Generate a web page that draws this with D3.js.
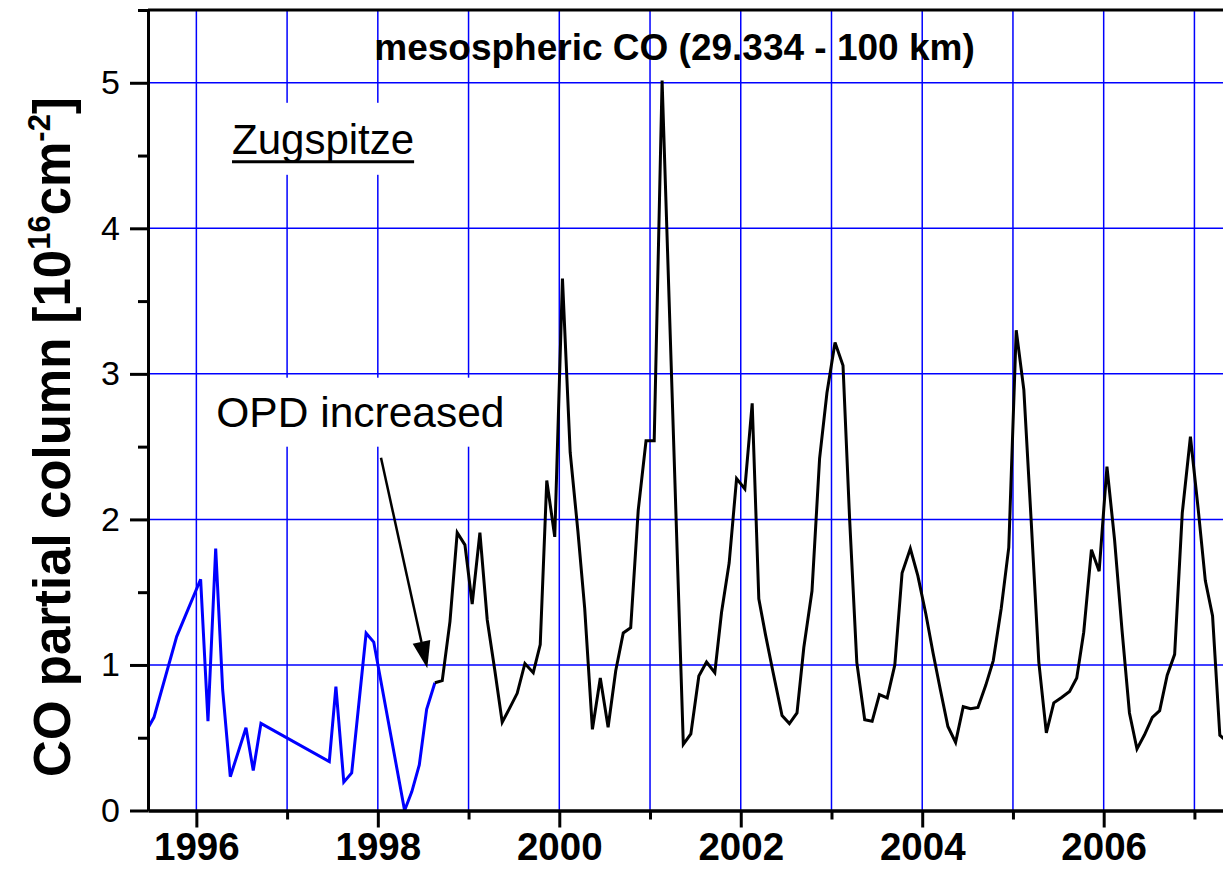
<!DOCTYPE html>
<html><head><meta charset="utf-8">
<script src="https://cdn.jsdelivr.net/npm/d3@7"></script>
<style>
body{margin:0;background:#fff}
svg{display:block}
text{font-family:"Liberation Sans",Arial,Helvetica,sans-serif}
</style>
</head><body>
<svg id="chart" width="1223" height="869"></svg>
<script>
// ---- data (decimal year, CO partial column in 1e16 cm^-2) ----
const blueYears = [1995.459,1995.533,1995.783,1996.047,1996.128,1996.213,1996.29,1996.374,1996.547,1996.627,1996.712,
  1997.465,1997.538,1997.625,1997.712,1997.871,1997.955,1998.295,1998.375,1998.457,1998.538,1998.629];
const blueValues = [0.558,0.64,1.195,1.589,0.613,1.80,0.828,0.232,0.569,0.274,0.599,
  0.336,0.851,0.195,0.258,1.218,1.157,0.0,0.13,0.313,0.695,0.878];

const blackYears = [1998.629,1998.71,1998.795,1998.875,1998.96,1999.04,1999.125,1999.206,1999.29,1999.371,1999.45,1999.536,
  1999.621,1999.713,1999.79,1999.862,1999.95,2000.035,2000.12,2000.205,2000.28,2000.365,2000.452,2000.538,2000.622,
  2000.705,2000.787,2000.87,2000.956,2001.046,2001.133,2001.367,2001.45,2001.538,2001.623,2001.714,2001.788,2001.872,
  2001.954,2002.045,2002.126,2002.199,2002.272,2002.356,2002.455,2002.536,2002.62,2002.695,2002.785,2002.869,2002.95,
  2003.039,2003.127,2003.20,2003.279,2003.366,2003.448,2003.528,2003.614,2003.698,2003.778,2003.869,2003.952,2004.04,
  2004.12,2004.20,2004.283,2004.368,2004.452,2004.533,2004.614,2004.70,2004.783,2004.871,2004.954,2005.036,2005.12,
  2005.20,2005.285,2005.368,2005.45,2005.536,2005.624,2005.703,2005.78,2005.865,2005.95,2006.036,2006.12,2006.202,
  2006.284,2006.367,2006.45,2006.536,2006.617,2006.70,2006.782,2006.866,2006.956,2007.04,2007.12,2007.20,2007.28,2007.33];
const blackValues = [0.878,0.892,1.298,1.909,1.825,1.419,1.909,1.309,0.96,0.606,0.70,0.805,
  1.01,0.947,1.14,2.267,1.88,3.655,2.46,1.92,1.389,0.558,0.911,0.572,0.96,
  1.22,1.256,2.063,2.54,2.54,5.015,0.455,0.526,0.924,1.02,0.947,1.36,1.70,
  2.28,2.21,2.797,1.455,1.21,0.95,0.652,0.597,0.67,1.12,1.508,2.42,2.87,
  3.216,3.057,2.0,1.018,0.624,0.613,0.796,0.774,1.0,1.632,1.80,1.612,1.35,
  1.08,0.83,0.577,0.468,0.713,0.699,0.708,0.86,1.03,1.39,1.808,3.30,2.89,
  2.0,1.02,0.533,0.74,0.777,0.818,0.91,1.225,1.792,1.644,2.362,1.86,1.24,
  0.67,0.423,0.52,0.64,0.686,0.93,1.073,2.043,2.568,2.08,1.58,1.336,0.517,0.49];

const yearTicks = [1996,1997,1998,1999,2000,2001,2002,2003,2004,2005,2006,2007];
const yearLabelTicks = [1996,1998,2000,2002,2004,2006];
const yearMinorTicks = [1997,1999,2001,2003,2005,2007];
const valueTicks = [0,1,2,3,4,5];
const valueMinorTicks = [0.5,1.5,2.5,3.5,4.5,5.5];
const gridValues = [1,2,3,4,5];

const titleText = "mesospheric CO (29.334 - 100 km)";
const siteText = "Zugspitze";
const noteText = "OPD increased";

// ---- layout ----
const W = 1223, H = 869;
const L = 148, T = 10, B = 810.5, R = 1223;
const svg = d3.select("#chart");

const x = d3.scaleLinear().domain([1995.467, 2007.315]).range([L, R]);
const y = d3.scaleLinear().domain([0, 5.5]).range([B, T]);

svg.append("defs").append("clipPath").attr("id","plot")
  .append("rect").attr("x",L).attr("y",T).attr("width",R-L).attr("height",B-T);

// grid
const grid = svg.append("g");
grid.selectAll("line.v").data(yearTicks).join("line").attr("class","v")
  .attr("x1",d=>x(d)).attr("x2",d=>x(d)).attr("y1",T).attr("y2",B)
  .attr("stroke","#0000ff").attr("stroke-width",1.5);
grid.selectAll("line.h").data(gridValues).join("line").attr("class","h")
  .attr("x1",L).attr("x2",R).attr("y1",d=>y(d)).attr("y2",d=>y(d))
  .attr("stroke","#0000ff").attr("stroke-width",1.5);

// annotation boxes (white, hide grid)
const ann = svg.append("g");
function boxedText(str, xv, yv, fs, pad){
  const g = ann.append("g");
  const r = g.append("rect").attr("fill","#fff");
  const t = g.append("text").attr("x",x(xv)).attr("y",y(yv))
    .attr("font-size",fs).attr("fill","#000").text(str);
  const bb = t.node().getBBox();
  r.attr("x",bb.x-pad[3]).attr("y",bb.y-pad[0])
   .attr("width",bb.width+pad[1]+pad[3]).attr("height",bb.height+pad[0]+pad[2]);
  return t;
}
const zt = boxedText(siteText, 1996.393, 4.512, 42, [13,12,12,26]);
const zbb = zt.node().getBBox();
ann.append("line").attr("x1",zbb.x).attr("x2",zbb.x+zbb.width)
  .attr("y1",y(4.512)+8).attr("y2",y(4.512)+8).attr("stroke","#000").attr("stroke-width",3);
boxedText(noteText, 1996.22, 2.637, 42.5, [11,10,11,10]);

// data lines
const line = d3.line().x(d=>x(d[0])).y(d=>y(d[1]));
const plot = svg.append("g").attr("clip-path","url(#plot)");
plot.append("path").datum(blueYears.map((d,i)=>[d,blueValues[i]]))
  .attr("d",line).attr("fill","none").attr("stroke","#0000ff").attr("stroke-width",3)
  .attr("stroke-linejoin","miter");
plot.append("path").datum(blackYears.map((d,i)=>[d,blackValues[i]]))
  .attr("d",line).attr("fill","none").attr("stroke","#000").attr("stroke-width",3)
  .attr("stroke-linejoin","miter");

// arrow
const a0 = [x(1998.035), y(2.423)], a1 = [x(1998.545), y(0.977)];
const dx = a1[0]-a0[0], dy = a1[1]-a0[1], len = Math.hypot(dx,dy);
const ux = dx/len, uy = dy/len, hl = 27, hw = 9;
const bx = a1[0]-ux*hl, by = a1[1]-uy*hl;
svg.append("line").attr("x1",a0[0]).attr("y1",a0[1]).attr("x2",bx).attr("y2",by)
  .attr("stroke","#000").attr("stroke-width",2.5);
svg.append("polygon").attr("points",[[a1[0],a1[1]],[bx-uy*hw,by+ux*hw],[bx+uy*hw,by-ux*hw]].map(p=>p.join(",")).join(" "))
  .attr("fill","#000");

// axes
function styleAxis(g){
  g.select(".domain").attr("stroke","#000").attr("stroke-width",3);
  g.selectAll(".tick line").attr("stroke","#000").attr("stroke-width",3);
}
const xMaj = svg.append("g").attr("transform",`translate(0,${B})`)
  .call(d3.axisBottom(x).tickValues(yearLabelTicks).tickSize(17).tickSizeOuter(0).tickPadding(5).tickFormat(d3.format("d")));
styleAxis(xMaj);
xMaj.selectAll(".tick text").attr("font-size",38.5).attr("font-weight","bold").attr("fill","#000")
  .attr("font-family","'Liberation Sans',Arial,sans-serif");
const xMin = svg.append("g").attr("transform",`translate(0,${B})`)
  .call(d3.axisBottom(x).tickValues(yearMinorTicks).tickSize(9).tickSizeOuter(0).tickFormat(""));
styleAxis(xMin);

const yMaj = svg.append("g").attr("transform",`translate(${L},0)`)
  .call(d3.axisLeft(y).tickValues(valueTicks).tickSize(18).tickSizeOuter(0).tickPadding(10).tickFormat(d3.format("d")));
styleAxis(yMaj);
yMaj.selectAll(".tick text").attr("font-size",34).attr("fill","#000")
  .attr("font-family","'Liberation Sans',Arial,sans-serif");
const yMin = svg.append("g").attr("transform",`translate(${L},0)`)
  .call(d3.axisLeft(y).tickValues(valueMinorTicks).tickSize(10).tickSizeOuter(0).tickFormat(""));
styleAxis(yMin);

// top frame
svg.append("line").attr("x1",L).attr("x2",R).attr("y1",T).attr("y2",T)
  .attr("stroke","#000").attr("stroke-width",3);

// title
svg.append("text").attr("x",674.5).attr("y",60).attr("text-anchor","middle")
  .attr("font-size",37).attr("font-weight","bold").text(titleText);

// y label
const yl = svg.append("text").attr("transform","translate(70,437) rotate(-90)")
  .attr("text-anchor","middle").attr("font-size",51).attr("font-weight","bold");
yl.append("tspan").text("CO partial column [10");
yl.append("tspan").attr("font-size",31).attr("dy",-20).text("16");
yl.append("tspan").attr("font-size",51).attr("dy",20).text("cm");
yl.append("tspan").attr("font-size",31).attr("dy",-20).text("-2");
yl.append("tspan").attr("font-size",51).attr("dy",20).text("]");
</script>
</body></html>
